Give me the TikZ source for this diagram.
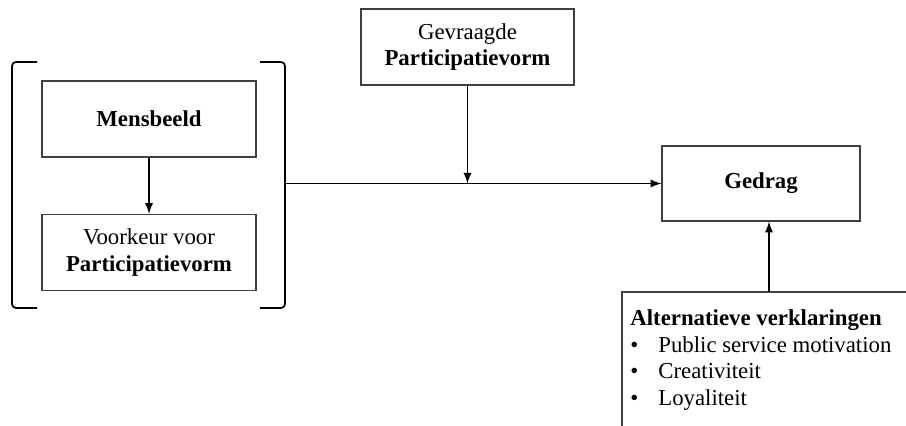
\documentclass[tikz,border=0pt]{standalone}
\usepackage{fontspec}
\setmainfont{Liberation Serif}
\usetikzlibrary{positioning}

\begin{document}
\begin{tikzpicture}[x=0.5pt,y=-0.5pt,>=latex,
    box/.style={draw=black!75,line width=0.6pt,minimum width=107pt,minimum height=38pt,align=center,inner sep=2pt},
    arr/.style={->,line width=0.85pt},
    every node/.style={font=\fontsize{11.4}{13.4}\selectfont}]
        \useasboundingbox (0,0) rectangle (906,426);
        % left block in brackets
        \node[box] (mens) at (149,119) {\textbf{Mensbeeld}};
        \node[box] (voorkeur) at (149,252.5) {Voorkeur voor\\\textbf{Participatievorm}};
        \draw[arr] (mens) -- (voorkeur);
        \draw[line width=0.85pt,rounded corners=2pt] (37,62) -- (12,62) -- (12,308) -- (37,308);
        \draw[line width=0.85pt,rounded corners=2pt] (260,62) -- (285,62) -- (285,308) -- (260,308);
        % top and right
        \node[box,minimum width=106.5pt] (gevraagd) at (467.5,47) {Gevraagde\\\textbf{Participatievorm}};
        \node[box,minimum width=99pt,minimum height=37.5pt] (gedrag) at (761,183.5) {\textbf{Gedrag}};
        \coordinate (bracket) at (285,183.5);
        \coordinate (join) at (467.5,183.5);
        \draw[arr] (bracket) -- (gedrag.west);
        \draw[arr] (gevraagd) -- (join);
        % alternative explanations (box runs off the page)
        \coordinate (alttop) at (769,292);
        \draw[line width=0.6pt,draw=black!75] (906,292) -- (622,292) -- (622,426);
        \node[anchor=north west,align=left,inner sep=0pt] (alt) at (630,309)
            {\textbf{Alternatieve verklaringen}\\
             \makebox[14pt][l]{\textbullet}Public service motivation\\
             \makebox[14pt][l]{\textbullet}Creativiteit\\
             \makebox[14pt][l]{\textbullet}Loyaliteit};
        \draw[arr] (alttop) -- (alttop |- gedrag.south);
\end{tikzpicture}
\end{document}
